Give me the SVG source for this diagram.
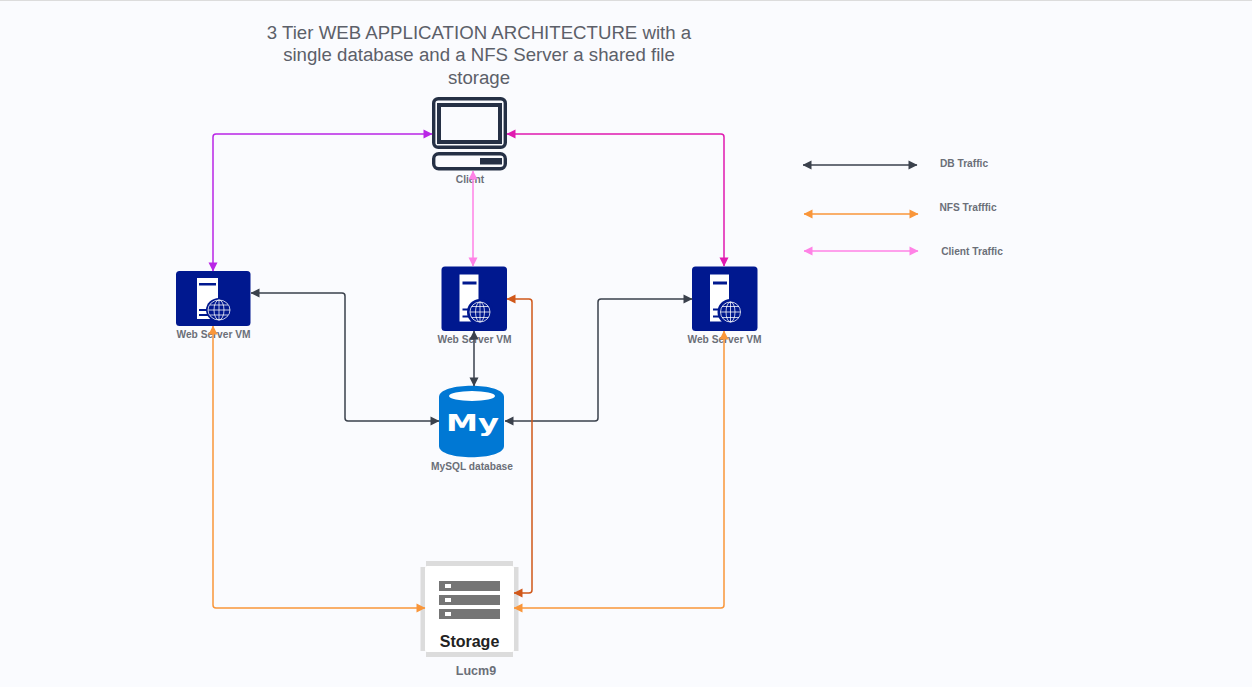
<svg xmlns="http://www.w3.org/2000/svg" width="1252" height="687" viewBox="0 0 1252 687">
<style>
text{font-family:"Liberation Sans",Arial,sans-serif;fill:#6b6f78;text-anchor:middle}
.t{font-size:18.650px;fill:#5c6069}
.l{font-size:10.200px;font-weight:bold}
.c{fill:none;stroke-width:1.500;stroke-linejoin:round}
.g{fill:none;stroke:#fff;stroke-width:.9;opacity:.85}
.n{fill:#00188f}
</style>
<defs>
<marker id="md" viewBox="0 0 10 10" refX="9.500" refY="5" markerWidth="10" markerHeight="10" markerUnits="userSpaceOnUse" orient="auto-start-reverse"><path d="M1 .5L10 5L1 9.500Z" fill="#3a414c"/></marker>
<marker id="mo" viewBox="0 0 10 10" refX="9.500" refY="5" markerWidth="10" markerHeight="10" markerUnits="userSpaceOnUse" orient="auto-start-reverse"><path d="M1 .5L10 5L1 9.500Z" fill="#f9963a"/></marker>
<marker id="mr" viewBox="0 0 10 10" refX="9.500" refY="5" markerWidth="10" markerHeight="10" markerUnits="userSpaceOnUse" orient="auto-start-reverse"><path d="M1 .5L10 5L1 9.500Z" fill="#d0581a"/></marker>
<marker id="mk" viewBox="0 0 10 10" refX="9.500" refY="5" markerWidth="10" markerHeight="10" markerUnits="userSpaceOnUse" orient="auto-start-reverse"><path d="M1 .5L10 5L1 9.500Z" fill="#ff82e6"/></marker>
<marker id="mp" viewBox="0 0 10 10" refX="9.500" refY="5" markerWidth="10" markerHeight="10" markerUnits="userSpaceOnUse" orient="auto-start-reverse"><path d="M1 .5L10 5L1 9.500Z" fill="#b926e6"/></marker>
<marker id="mm" viewBox="0 0 10 10" refX="9.500" refY="5" markerWidth="10" markerHeight="10" markerUnits="userSpaceOnUse" orient="auto-start-reverse"><path d="M1 .5L10 5L1 9.500Z" fill="#e01ab0"/></marker>
<symbol id="ws" viewBox="0 0 66 66" width="66" height="66" overflow="visible">
<rect x="0" y="0" width="65.500" height="64.500" rx="3.500" class="n"/>
<path d="M18 8H37V55H18Z" fill="#fff"/>
<rect x="21" y="15" width="14" height="3" class="n"/>
<rect x="21" y="42" width="12" height="2" class="n"/>
<rect x="21" y="49" width="12" height="2" class="n"/>
<circle cx="38.500" cy="45.500" r="13" class="n"/>
<circle cx="38.500" cy="45.500" r="10" class="g"/>
<ellipse cx="38.500" cy="45.500" rx="4.500" ry="10" class="g"/>
<path d="M28.500 45.500H48.500M30 40H47M30 51H47M38.500 35.500V55.500" class="g"/>
</symbol>
</defs>
<rect width="1252" height="687" fill="#fafbfe"/>
<rect width="1252" height="1" fill="#dcdcdc"/>
<text class="t" x="479" y="38.500">3 Tier WEB APPLICATION ARCHITECTURE with a</text>
<text class="t" x="479" y="61">single database and a NFS Server a shared file</text>
<text class="t" x="479" y="83.500">storage</text>
<g id="client">
<rect x="433.700" y="98.700" width="71.600" height="48.600" rx="4.500" fill="none" stroke="#253045" stroke-width="3.400"/>
<rect x="439" y="105" width="61" height="37" fill="none" stroke="#253045" stroke-width="4"/>
<rect x="433.700" y="153.700" width="71.600" height="15" rx="5" fill="none" stroke="#253045" stroke-width="3.400"/>
<rect x="480" y="158" width="22" height="6.500" fill="#253045"/>
<text class="l" x="470" y="183">Client</text>
</g>
<g id="web-left">
<rect x="176" y="271" width="74.500" height="55" rx="3.500" class="n"/>
<path d="M197 278H218V319H197Z" fill="#fff"/>
<rect x="199" y="283" width="17" height="2.500" class="n"/>
<rect x="199" y="309" width="11" height="2" class="n"/>
<rect x="199" y="314" width="11" height="2" class="n"/>
<ellipse cx="219" cy="310" rx="13" ry="12" class="n"/>
<ellipse cx="219" cy="310" rx="11" ry="10" class="g"/>
<ellipse cx="219" cy="310" rx="5" ry="10" class="g"/>
<path d="M208 310H230M210 305H228M210 315H228M219 300V320" class="g"/>
<text class="l" x="213.500" y="338">Web Server VM</text>
</g>
<g id="web-center"><use href="#ws" x="441.500" y="266.500"/><text class="l" x="474.500" y="343">Web Server VM</text></g>
<g id="web-right"><use href="#ws" x="692" y="266.500"/><text class="l" x="724.500" y="343">Web Server VM</text></g>
<g id="mysql">
<path d="M439 397C439 382 504 382 504 397V446C504 461 439 461 439 446Z" fill="#0078d4"/>
<ellipse cx="472" cy="396" rx="23" ry="5" fill="#fff"/>
<text x="472.500" y="431" style="font-family:'DejaVu Sans',sans-serif;font-size:23px;font-weight:bold;fill:#fff" textLength="53" lengthAdjust="spacingAndGlyphs">My</text>
<text class="l" x="472" y="470">MySQL database</text>
</g>
<g id="storage">
<rect x="426" y="561" width="87" height="96" fill="#dcdcdc"/>
<rect x="420.500" y="567" width="98" height="84" fill="#dcdcdc"/>
<rect x="425" y="566" width="89" height="86" rx="2" fill="#fff"/>
<rect x="439" y="581" width="61" height="10" fill="#757575"/>
<rect x="439" y="595" width="61" height="10" fill="#757575"/>
<rect x="439" y="609" width="61" height="10" fill="#757575"/>
<rect x="445" y="584" width="6" height="4" fill="#fff"/>
<rect x="445" y="598" width="6" height="4" fill="#fff"/>
<rect x="445" y="612" width="6" height="4" fill="#fff"/>
<text x="469.500" y="647" style="font-size:16px;font-weight:bold;fill:#222">Storage</text>
<text x="476" y="675" style="font-size:12.500px;font-weight:bold">Lucm9</text>
</g>
<g id="legend">
<text class="l" x="964" y="167">DB Traffic</text>
<text class="l" x="968" y="211">NFS Trafffic</text>
<text class="l" x="972" y="255">Client Traffic</text>
</g>
<g id="connectors">
<path class="c" stroke="#b926e6" marker-start="url(#mp)" marker-end="url(#mp)" d="M432 134H216Q213 134 213 137V271"/>
<path class="c" stroke="#e01ab0" marker-start="url(#mm)" marker-end="url(#mm)" d="M507 134H721Q724 134 724 137V266"/>
<path class="c" stroke="#ff82e6" marker-start="url(#mk)" marker-end="url(#mk)" d="M473 171V266"/>
<path class="c" stroke="#3a414c" marker-start="url(#md)" marker-end="url(#md)" d="M251 293H342Q345 293 345 296V418Q345 421 348 421H439"/>
<path class="c" stroke="#3a414c" marker-start="url(#md)" marker-end="url(#md)" d="M474 331V386"/>
<path class="c" stroke="#3a414c" marker-start="url(#md)" marker-end="url(#md)" d="M505 421H595Q598 421 598 418V302Q598 299 601 299H692"/>
<path class="c" stroke="#d0581a" marker-start="url(#mr)" marker-end="url(#mr)" d="M507 299H529Q532 299 532 302V590Q532 593 529 593H514"/>
<path class="c" stroke="#f9963a" marker-start="url(#mo)" marker-end="url(#mo)" d="M213 326V605Q213 608 216 608H425"/>
<path class="c" stroke="#f9963a" marker-start="url(#mo)" marker-end="url(#mo)" d="M724 331V605Q724 608 721 608H514"/>
<path class="c" stroke="#3a414c" marker-start="url(#md)" marker-end="url(#md)" d="M803 165H917"/>
<path class="c" stroke="#f9963a" marker-start="url(#mo)" marker-end="url(#mo)" d="M804 214H918"/>
<path class="c" stroke="#ff82e6" marker-start="url(#mk)" marker-end="url(#mk)" d="M804 251H918"/>
</g>
</svg>
